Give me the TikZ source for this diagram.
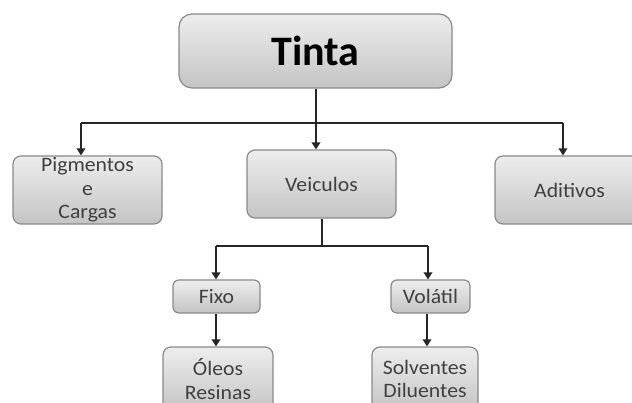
\documentclass[tikz,border=0pt]{standalone}
\usepackage{fontspec}
\setmainfont{Carlito}
\newfontfamily\boxfont[FakeStretch=1.06]{Carlito}
\usetikzlibrary{arrows.meta,calc}
\definecolor{boxedge}{HTML}{8A8A8A}
\definecolor{boxtop}{HTML}{EDEDED}
\definecolor{boxbot}{HTML}{C4C4C4}
\definecolor{txtgray}{HTML}{404040}
\tikzset{
  box/.style={draw=boxedge, line width=1.2pt, rounded corners=8pt,
    top color=boxtop, bottom color=boxbot, inner sep=0pt,
    align=center, font=\boxfont\fontsize{20.5}{23.5}\selectfont, text=txtgray},
  conn/.style={line width=2pt, draw=black!85},
  arr/.style={conn, -{Triangle[length=7pt,width=8.5pt]}}
}
\begin{document}
\begin{tikzpicture}[x=1pt,y=-1pt]
\useasboundingbox (0,0) rectangle (632,403);
\fill[white] (0,0) rectangle (632,403);
% top
\node[box, rounded corners=13pt, minimum width=273pt, minimum height=74pt,
  font=\fontsize{42}{48}\selectfont\bfseries, text=black] (tinta) at (315.5,51) {Tinta};
% second row
\node[box, minimum width=149pt, minimum height=68pt] (pig) at (87.5,190) {Pigmentos\\e\\Cargas};
\node[box, minimum width=149pt, minimum height=68pt] (veic) at (321.5,184) {Veiculos};
\node[box, minimum width=149pt, minimum height=68pt] (adit) at (569.5,190) {Aditivos};
% third row
\node[box, rounded corners=6pt, minimum width=87pt, minimum height=33pt] (fixo) at (216.5,296.5) {Fixo};
\node[box, rounded corners=6pt, minimum width=79pt, minimum height=33pt] (vol) at (430.5,296.5) {Volátil};
% fourth row
\node[box, minimum width=110pt, minimum height=64pt] (oleo) at (218,379) {Óleos\\Resinas};
\node[box, minimum width=106pt, minimum height=64pt] (solv) at (425,379) {Solventes\\Diluentes};
% bus coordinates
\coordinate (busA) at (81,123);
\coordinate (busB) at (563,123);
\coordinate (busC) at (216,246);
\coordinate (busD) at (428,246);
% connectors
\draw[conn] (busA) -- (busB);
\draw[arr] (tinta.south -| 316,0) -- (veic.north -| 316,0);
\draw[arr] (busA) -- (busA |- pig.north);
\draw[arr] (busB) -- (busB |- adit.north);
\draw[conn] (veic.south -| 322,0) -- (322,246);
\draw[conn] (busC) -- (busD);
\draw[arr] (busC) -- (busC |- fixo.north);
\draw[arr] (busD) -- (busD |- vol.north);
\draw[arr] (fixo.south -| 216,0) -- (oleo.north -| 216,0);
\draw[arr] (vol.south -| 427,0) -- (solv.north -| 427,0);
\end{tikzpicture}
\end{document}
